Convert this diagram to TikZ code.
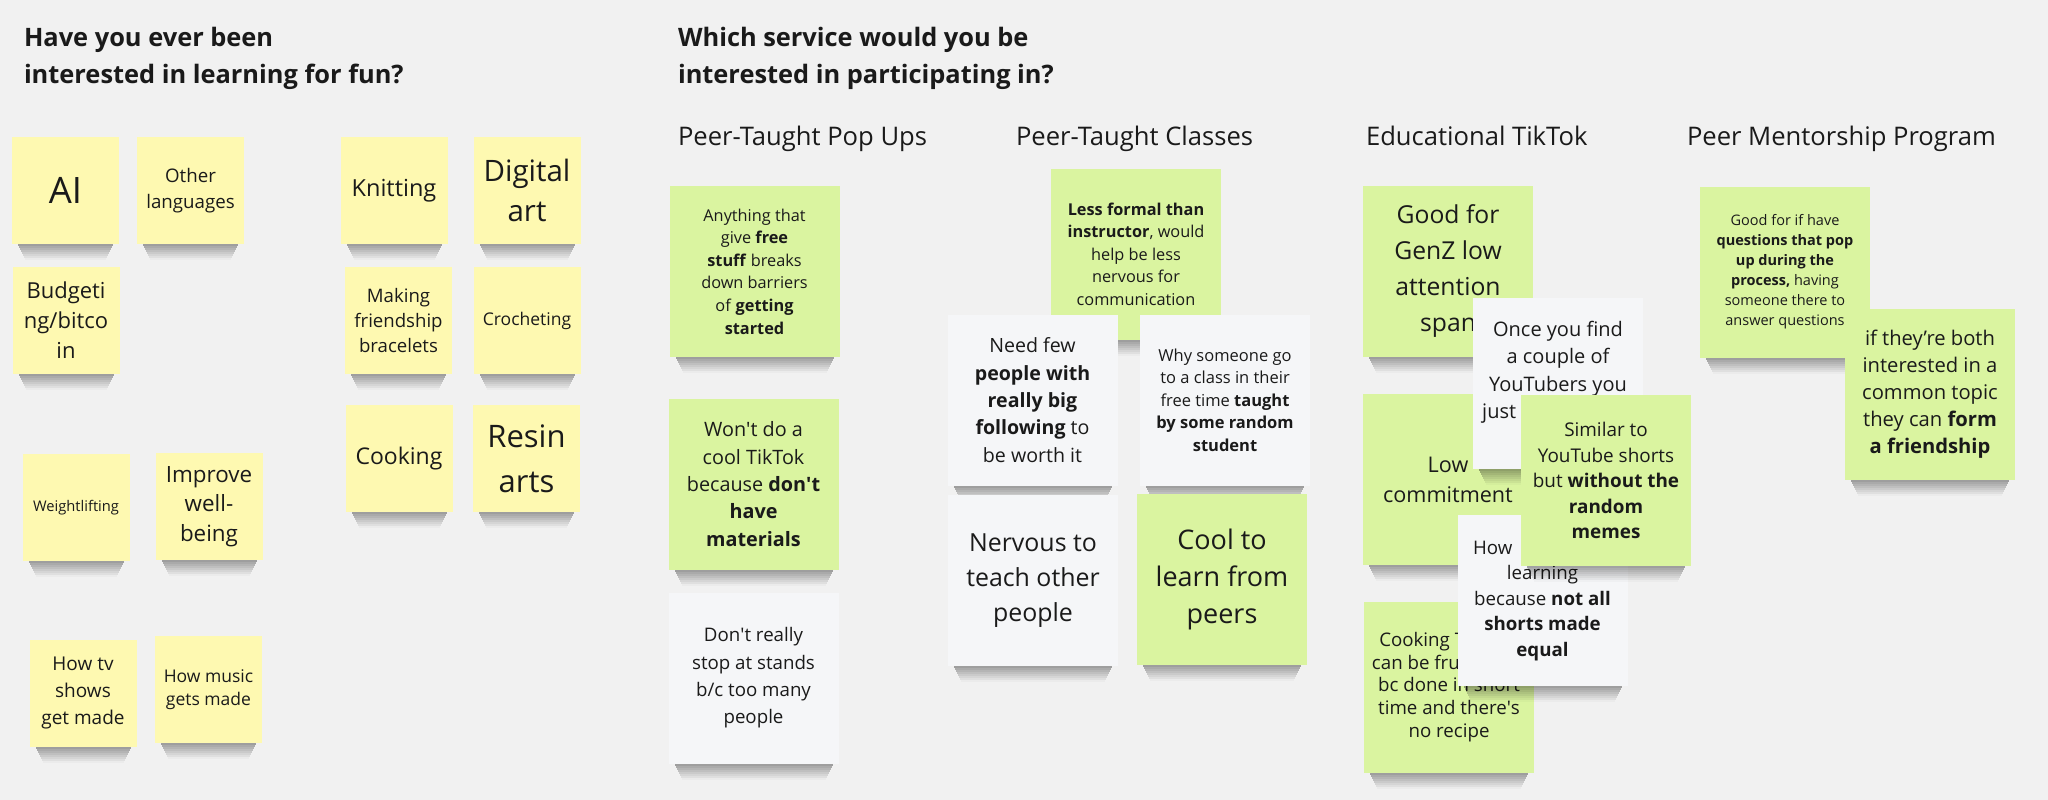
\documentclass[tikz,border=0pt]{standalone}
\usepackage{fontspec}
\setmainfont{Open Sans}
\usepackage{xcolor}
\usepackage{tikz}

\definecolor{boardbg}{HTML}{F1F1F1}
\definecolor{stickyyellow}{HTML}{FEF9B1}
\definecolor{stickygreen}{HTML}{DAF4A0}
\definecolor{stickywhite}{HTML}{F5F6F8}
\definecolor{ink}{HTML}{1A1A1A}

\tikzset{
  smallnote/.style={fill=stickyyellow,minimum width=107pt,minimum height=107pt,inner sep=0pt,outer sep=0pt,align=center,text=ink},
  bignote/.style={minimum width=170pt,minimum height=171pt,inner sep=0pt,outer sep=0pt,align=center,text=ink},
  greennote/.style={bignote,fill=stickygreen},
  whitenote/.style={bignote,fill=stickywhite},
  boardtitle/.style={inner sep=0pt,outer sep=0pt,anchor=base west,text=ink,font=\bfseries\fontsize{25.4}{30}\selectfont},
  colhead/.style={inner sep=0pt,outer sep=0pt,anchor=base west,text=ink,font=\fontsize{25.6}{30}\selectfont}
}
\newcommand\shadowunder[1]{\foreach \k [evaluate=\k as \op using 0.34-0.045*\k] in {0,...,7}
  {\fill[black,fill opacity=\op] ([xshift=6pt+\k pt,yshift=-2*\k pt]#1.south west) rectangle ([xshift=-6pt-\k pt,yshift=-2*\k pt-2pt]#1.south east);}}
\newcommand\sq{\textquotesingle}

\begin{document}
\begin{tikzpicture}[x=1pt,y=-1pt]
\path[use as bounding box] (0,0) rectangle (2048,800);
\path[fill=boardbg,draw=none] (0,0) rectangle (2048,800);
\node[boardtitle] (qfun1) at (24,46.5) {Have you ever been};
\node[boardtitle] (qfun2) at (24,83) {interested in learning for fun?};
\node[boardtitle] (qsrv1) at (678,46.5) {Which service would you be};
\node[boardtitle] (qsrv2) at (678,83) {interested in participating in?};
\node[colhead] (hpop) at (678,145) {Peer-Taught Pop Ups};
\node[colhead] (hcls) at (1016,145) {Peer-Taught Classes};
\node[colhead] (htik) at (1366,145) {Educational TikTok};
\node[colhead] (hmen) at (1687,145) {Peer Mentorship Program};
\node[smallnote,font=\fontsize{36.4}{40}\selectfont] (ai) at (65.5,190.5) {AI};
\shadowunder{ai}
\node[smallnote,font=\fontsize{18.7}{25.7}\selectfont] (lang) at (190.5,190.5) {Other\\languages};
\shadowunder{lang}
\node[smallnote,font=\fontsize{23.5}{30}\selectfont] (knit) at (394,190.5) {Knitting};
\shadowunder{knit}
\node[smallnote,font=\fontsize{29.5}{40}\selectfont] (digital) at (527,190.5) {Digital\\art};
\shadowunder{digital}
\node[smallnote,font=\fontsize{22}{30}\selectfont] (budget) at (66,320.5) {Budgeti\\ng/bitco\\in};
\shadowunder{budget}
\node[smallnote,font=\fontsize{18.6}{25}\selectfont] (bracelet) at (398.5,320.5) {Making\\friendship\\bracelets};
\shadowunder{bracelet}
\node[smallnote,font=\fontsize{17.5}{24}\selectfont] (crochet) at (527,320.5) {Crocheting};
\shadowunder{crochet}
\node[smallnote,font=\fontsize{14.7}{20}\selectfont] (weight) at (76,507.5) {Weightlifting};
\shadowunder{weight}
\node[smallnote,font=\fontsize{22.4}{29.3}\selectfont] (wellbeing) at (209,506.5) {Improve\\well-\\being};
\shadowunder{wellbeing}
\node[smallnote,font=\fontsize{23}{30}\selectfont] (cook) at (399,458.5) {Cooking};
\shadowunder{cook}
\node[smallnote,font=\fontsize{31}{45}\selectfont] (resin) at (526.5,458.5) {Resin\\arts};
\shadowunder{resin}
\node[smallnote,font=\fontsize{19}{26.7}\selectfont] (tvshows) at (83,693) {How tv\\shows\\get made};
\shadowunder{tvshows}
\node[smallnote,font=\fontsize{17.5}{23.3}\selectfont] (music) at (208.5,689.5) {How music\\gets made};
\shadowunder{music}
\node[greennote,font=\fontsize{16.3}{22.6}\selectfont] (freestuff) at (754.5,271.5) {Anything that\\give \textbf{free}\\\textbf{stuff} breaks\\down barriers\\of \textbf{getting}\\\textbf{started}};
\shadowunder{freestuff}
\node[greennote,font=\fontsize{19.8}{27.3}\selectfont] (materials) at (753.5,484) {Won\sq t do a\\cool TikTok\\because \textbf{don\sq t}\\\textbf{have}\\\textbf{materials}};
\shadowunder{materials}
\node[whitenote,font=\fontsize{18.7}{27.3}\selectfont] (stands) at (753.5,678) {Don\sq t really\\stop at stands\\b/c too many\\people};
\shadowunder{stands}
\node[greennote,font=\fontsize{16.3}{22.5}\selectfont] (informal) at (1136,254) {\textbf{Less formal than}\\\textbf{instructor}, would\\help be less\\nervous for\\communication};
\shadowunder{informal}
\node[whitenote,font=\fontsize{19.6}{27.3}\selectfont] (following) at (1032.5,400) {Need few\\\textbf{people with}\\\textbf{really big}\\\textbf{following} to\\be worth it};
\shadowunder{following}
\node[whitenote,font=\fontsize{16.5}{22.5}\selectfont] (randomstu) at (1225,400) {Why someone go\\to a class in their\\free time \textbf{taught}\\\textbf{by some random}\\\textbf{student}};
\shadowunder{randomstu}
\node[whitenote,font=\fontsize{24.9}{34.7}\selectfont] (nervous) at (1033,580.5) {Nervous to\\teach other\\people};
\shadowunder{nervous}
\node[greennote,font=\fontsize{27}{37}\selectfont] (peers) at (1222,579) {Cool to\\learn from\\peers};
\shadowunder{peers}
\node[greennote,font=\fontsize{24.7}{36}\selectfont] (genz) at (1448,271.5) {Good for\\GenZ low\\attention\\span};
\shadowunder{genz}
\node[greennote,font=\fontsize{21.6}{30}\selectfont] (lowcommit) at (1448,479.5) {Low\\commitment};
\shadowunder{lowcommit}
\node[greennote,font=\fontsize{18.7}{22.8}\selectfont] (recipe) at (1449,687) {Cooking TikToks\\can be frustrating\\bc done in short\\time and there\sq s\\no recipe};
\shadowunder{recipe}
\node[whitenote,font=\fontsize{20}{27.5}\selectfont] (youtubers) at (1558,383.5) {Once you find\\a couple of\\YouTubers you\\just\phantom{ binge watch}\\\phantom{them}};
\shadowunder{youtubers}
\node[whitenote,font=\fontsize{18.7}{25.5}\selectfont] (equal) at (1542.5,600.5) {How\phantom{ to quantify}\\learning\\because \textbf{not all}\\\textbf{shorts made}\\\textbf{equal}};
\shadowunder{equal}
\node[greennote,font=\fontsize{18.9}{25.5}\selectfont] (shorts) at (1606,480.5) {Similar to\\YouTube shorts\\but \textbf{without the}\\\textbf{random}\\\textbf{memes}};
\shadowunder{shorts}
\node[greennote,font=\fontsize{14.5}{20}\selectfont] (questions) at (1785,272) {Good for if have\\\textbf{questions that pop}\\\textbf{up during the}\\\textbf{process,} having\\someone there to\\answer questions};
\shadowunder{questions}
\node[greennote,font=\fontsize{20.2}{27}\selectfont] (friendship) at (1930,394) {if they’re both\\interested in a\\common topic\\they can \textbf{form}\\\textbf{a friendship}};
\shadowunder{friendship}
\end{tikzpicture}
\end{document}
